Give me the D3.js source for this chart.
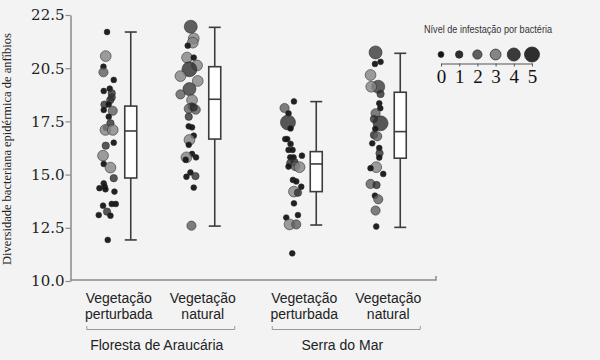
<!DOCTYPE html>
<html><head><meta charset="utf-8">
<script src="https://cdn.jsdelivr.net/npm/d3@7"></script>
<style>
html,body{margin:0;padding:0;background:#f3f3f3;}
svg{display:block;}
</style></head>
<body>
<svg id="chart" width="600" height="360"></svg>
<script>
// ---------- DATA ----------
const groups = ["Floresta de Araucária", "Serra do Mar"];
const habitats = ["perturbada", "natural"];
const categoryLabels = [["Vegetação","perturbada"],["Vegetação","natural"]];
const yTickValues = [10, 12.5, 15, 17.5, 20, 22.5];
const yTickLabels = ["10.0", "12.5", "15.0", "17.5", "20.5", "22.5"];
const yTitle = "Diversidade bacteriana epidérmica de anfíbios";
const legendTitle = "Nível de infestação por bactéria";
const levels = [0, 1, 2, 3, 4, 5];

// box stats: [min, q1, median, q3, max]
const boxFlorestaPert = [11.93, 14.84, 17.05, 18.22, 21.70];
const boxFlorestaNat  = [12.58, 16.67, 18.54, 20.07, 21.92];
const boxSerraPert    = [12.63, 14.20, 15.50, 16.08, 18.43];
const boxSerraNat     = [12.52, 15.77, 17.02, 18.87, 20.70];

// points: [diversity, infestation level, jitter (-1..1)]
const ptsFlorestaPert = [
 [21.70,0,0.03],[20.57,3,-0.1],[20.07,0,-0.33],[19.81,2,-0.33],[19.45,0,0.7],[19.04,0,0.3],
 [18.93,0,-0.3],[18.82,1,0.5],[18.63,1,0.5],[18.50,1,0.35],[18.29,1,-0.23],[18.30,0,0.2],
 [18.04,0,-0.3],[18.00,2,0.6],[17.72,0,0.2],[17.41,1,0.37],[17.20,0,-0.1],[17.10,3,-0.13],
 [17.10,3,0.6],[16.50,0,0.7],[16.36,1,-0.1],[15.89,3,-0.37],[15.50,0,-0.3],[15.33,3,0.37],
 [14.83,1,0.7],[14.59,0,-0.3],[14.43,0,-0.2],[14.36,0,-0.73],[14.31,0,-0.13],[14.20,0,0.77],
 [13.62,0,0.5],[13.62,0,0.9],[13.54,0,-0.37],[13.26,1,0.03],[13.10,0,-0.8],[13.07,0,0.37],
 [11.93,0,0.1]
];
const ptsFlorestaNat = [
 [21.95,4,0],[21.40,3,0.3],[21.20,3,0.2],[21.06,0,-0.3],[20.50,3,-0.37],[20.50,0,0.3],
 [20.13,3,0.63],[19.95,5,-0.13],[19.63,3,-1.03],[19.40,3,0.7],[19.02,4,-0.13],[18.77,2,-1.03],
 [18.50,3,0.13],[18.20,1,0.1],[18.10,2,-0.2],[18.05,2,0.5],[18.15,1,0.3],[17.72,1,-0.2],
 [17.27,0,-0.2],[17.22,0,0.13],[16.83,0,0.3],[16.63,3,-0.13],[16.40,0,-0.2],[15.97,0,0.13],
 [15.81,0,0.53],[15.81,3,-0.43],[15.70,0,-0.5],[15.10,0,-0.03],[14.90,0,-0.43],[14.93,1,0.47],
 [14.39,0,0.3],[12.60,2,0.07]
];
const ptsSerraPert = [
 [18.44,0,0.17],[18.13,2,-0.77],[17.88,0,-0.37],[17.45,5,-0.43],[17.17,0,-0.17],[16.67,0,-0.7],
 [16.67,0,-0.5],[16.44,0,-0.17],[16.16,0,-0.37],[16.16,0,0.03],[15.89,0,0.97],[15.81,0,-0.2],
 [15.81,0,0.13],[15.54,1,-0.2],[15.58,1,0.23],[15.40,2,0.3],[15.35,3,0.73],[15.38,0,-0.37],
 [14.75,0,0.07],[14.68,0,0.4],[14.43,0,0.9],[14.20,3,0.17],[14.15,1,0.57],[13.65,0,0.17],
 [13.10,0,0.57],[12.98,0,-0.6],[12.66,3,-0.27],[12.66,2,0.4],[11.30,0,0.0]
];
const ptsSerraNat = [
 [20.74,4,-0.07],[20.30,0,0.43],[20.20,0,-0.13],[19.68,3,-0.57],[19.13,4,0.2],[19.13,3,-0.5],
 [18.79,1,0.43],[18.35,0,0.3],[18.12,0,0.4],[17.88,2,-0.07],[17.61,1,-0.23],[17.41,5,0.43],
 [17.15,0,-0.1],[16.86,1,-0.23],[16.80,2,0.1],[16.47,0,-0.4],[16.25,0,0.3],[16.00,1,0.33],
 [15.80,0,0.3],[15.35,3,0],[15.30,0,-0.57],[15.03,0,0.7],[14.56,2,-0.57],[14.51,1,0.03],
 [14.01,0,-0.13],[13.84,2,0.2],[13.31,2,-0.07],[12.56,0,0]
];

const series = [
  {group: groups[0], habitat: habitats[0], box: boxFlorestaPert, pts: ptsFlorestaPert},
  {group: groups[0], habitat: habitats[1], box: boxFlorestaNat,  pts: ptsFlorestaNat},
  {group: groups[1], habitat: habitats[0], box: boxSerraPert,    pts: ptsSerraPert},
  {group: groups[1], habitat: habitats[1], box: boxSerraNat,     pts: ptsSerraNat}
];

// ---------- LAYOUT ----------
const svg = d3.select("#chart");
const axisX = 70.5, axisTop = 15, axisBottom = 281;
const serif = "'DejaVu Serif', 'Liberation Serif', serif";
const sans = "'Liberation Sans', Arial, sans-serif";

const y = d3.scaleLinear().domain([10, 22.5]).range([axisBottom, axisTop]);
const xGroup = d3.scalePoint().domain(groups).range([68, 439]).padding(0.5);
const xHab = d3.scalePoint().domain(habitats).range([-84, 84]).padding(0.5);
const jitter = d3.scaleLinear().domain([-1, 1]).range([-10, 10]);
const radius = d3.scaleOrdinal().domain(levels).range([2.9, 3.7, 4.6, 5.4, 6.5, 7.5]);
const fill = d3.scaleOrdinal().domain(levels).range(["#151515", "#2f2f2f", "#5f5f5f", "#858585", "#3a3a3a", "#2e2e2e"]);
const boxOffset = 12, dotOffset = -12, boxW = 12;

const catX = d => xGroup(d.group) + xHab(d.habitat);

// y axis
const yAxis = d3.axisLeft(y).tickValues(yTickValues)
  .tickFormat((d, i) => yTickLabels[i]).tickSize(5).tickSizeOuter(0).tickPadding(1);
const ga = svg.append("g").attr("transform", `translate(${axisX},0)`).call(yAxis);
ga.select(".domain").attr("stroke", "#8a8a8a").attr("stroke-width", 1.5);
ga.selectAll(".tick line").attr("stroke", "#8a8a8a").attr("stroke-width", 1.2);
ga.selectAll(".tick text").attr("font-family", serif).attr("font-size", 15).attr("fill", "#222");

// x baseline
const xAxisG = svg.append("g");
xAxisG.append("path")
  .attr("d", `M${axisX},${axisBottom - 1}H436V${axisBottom - 5}`)
  .attr("fill", "none").attr("stroke", "#8a8a8a").attr("stroke-width", 1.5);

// y title
svg.append("text")
  .attr("transform", `translate(11,149) rotate(-90)`)
  .attr("text-anchor", "middle")
  .attr("font-family", "'Liberation Serif', serif").attr("font-size", 12.5).attr("fill", "#222")
  .text(yTitle);

// dots
series.forEach(s => {
  const cx = catX(s) + dotOffset;
  svg.append("g").selectAll("circle").data(s.pts).join("circle")
    .attr("cx", d => cx + jitter(d[2]))
    .attr("cy", d => y(d[0]))
    .attr("r", d => radius(d[1]))
    .attr("fill", d => fill(d[1]))
    .attr("fill-opacity", d => d[1] === 0 ? 0.95 : 0.8)
    .attr("stroke", "#2a2a2a").attr("stroke-opacity", 0.7).attr("stroke-width", 0.8);
});

// boxes
series.forEach(s => {
  const bx = catX(s) + boxOffset;
  const [mn, q1, md, q3, mx] = s.box;
  const g = svg.append("g").attr("stroke", "#3c3c3c").attr("stroke-width", 1.6).attr("fill", "none");
  g.append("line").attr("x1", bx).attr("x2", bx).attr("y1", y(mx)).attr("y2", y(q3));
  g.append("line").attr("x1", bx).attr("x2", bx).attr("y1", y(q1)).attr("y2", y(mn));
  g.append("line").attr("x1", bx - boxW / 2).attr("x2", bx + boxW / 2).attr("y1", y(mx)).attr("y2", y(mx));
  g.append("line").attr("x1", bx - boxW / 2).attr("x2", bx + boxW / 2).attr("y1", y(mn)).attr("y2", y(mn));
  g.append("rect").attr("x", bx - boxW / 2).attr("y", y(q3)).attr("width", boxW).attr("height", y(q1) - y(q3)).attr("fill", "#fff");
  g.append("line").attr("x1", bx - boxW / 2).attr("x2", bx + boxW / 2).attr("y1", y(md)).attr("y2", y(md));
});

// category labels
series.forEach(s => {
  const lines = categoryLabels[habitats.indexOf(s.habitat)];
  const t = svg.append("text").attr("text-anchor", "middle")
    .attr("font-family", sans).attr("font-size", 14).attr("fill", "#222");
  lines.forEach((l, i) => t.append("tspan").attr("x", catX(s)).attr("y", 303 + i * 15.5).text(l));
});

// group brackets + labels
groups.forEach(gname => {
  const c = xGroup(gname);
  svg.append("path")
    .attr("d", `M${c - 74},326V329.5H${c + 74}V326`)
    .attr("fill", "none").attr("stroke", "#999").attr("stroke-width", 1);
  svg.append("text").attr("x", c - 4).attr("y", 350).attr("text-anchor", "middle")
    .attr("font-family", sans).attr("font-size", 14).attr("fill", "#222").text(gname);
});

// legend
const lx = d3.scalePoint().domain(levels).range([441, 532]);
const lg = svg.append("g");
lg.append("text").attr("x", 424).attr("y", 33).attr("font-family", sans).attr("font-size", 10.5)
  .attr("fill", "#333").attr("textLength", 128).attr("lengthAdjust", "spacingAndGlyphs").text(legendTitle);
lg.selectAll("circle").data(levels).join("circle")
  .attr("cx", d => lx(d)).attr("cy", 54.5).attr("r", d => radius(d))
  .attr("fill", d => fill(d)).attr("stroke", "#2a2a2a").attr("stroke-width", 0.8);
const legendAxis = d3.axisBottom(lx).tickSize(3).tickSizeOuter(0).tickPadding(3);
const lga = lg.append("g").attr("transform", "translate(0,63.5)").call(legendAxis);
lga.select(".domain").attr("stroke", "#555").attr("stroke-width", 1.2);
lga.selectAll(".tick line").attr("stroke", "#555");
lga.selectAll(".tick text").attr("font-family", "'Liberation Serif', serif").attr("font-size", 19).attr("fill", "#111");
</script>
</body></html>
